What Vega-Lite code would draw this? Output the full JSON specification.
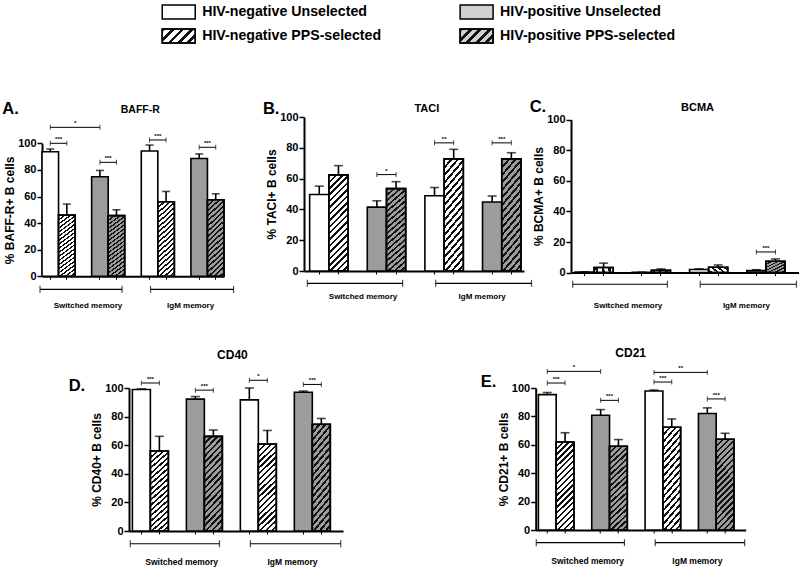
{
"$schema":"https://vega.github.io/schema/vega-lite/v6.json",
"padding":{"left":2,"top":0,"right":0,"bottom":0},
"background":"white",
"config":{"font":"Liberation Sans","view":{"stroke":null},
"axis":{"grid":false,"domainColor":"#000","domainWidth":2,"tickColor":"#000","labelColor":"#000","labelFontWeight":"bold","labelFontSize":11,"labelOverlap":false,"titleColor":"#000","titleFontWeight":"bold","titleFontSize":12},
"axisX":{"tickSize":3,"tickWidth":1,"labels":false},
"axisY":{"tickSize":5,"tickWidth":1.5,"labelPadding":1,"titlePadding":1,"labelOverlap":false},
"axisQuantitative":{"labelOverlap":false},
"text":{"fontWeight":"bold","color":"#000"}},
"datasets":{
"bars":[
{"panel":"A","slot":"SM-negU","series":"negU","value":93.7,"upper":95.7},
{"panel":"A","slot":"SM-negP","series":"negP","value":46,"upper":54.3},
{"panel":"A","slot":"SM-posU","series":"posU","value":74.8,"upper":79.6},
{"panel":"A","slot":"SM-posP","series":"posP","value":45.6,"upper":50},
{"panel":"A","slot":"IgM-negU","series":"negU","value":94.2,"upper":98.7},
{"panel":"A","slot":"IgM-negP","series":"negP","value":56,"upper":63.8},
{"panel":"A","slot":"IgM-posU","series":"posU","value":88.6,"upper":92},
{"panel":"A","slot":"IgM-posP","series":"posP","value":57.6,"upper":62},
{"panel":"B","slot":"SM-negU","series":"negU","value":49.7,"upper":55.1},
{"panel":"B","slot":"SM-negP","series":"negP","value":62.4,"upper":68.4},
{"panel":"B","slot":"SM-posU","series":"posU","value":41.5,"upper":45.6},
{"panel":"B","slot":"SM-posP","series":"posP","value":53.5,"upper":58},
{"panel":"B","slot":"IgM-negU","series":"negU","value":48.9,"upper":54.2},
{"panel":"B","slot":"IgM-negP","series":"negP","value":72.8,"upper":79},
{"panel":"B","slot":"IgM-posU","series":"posU","value":44.8,"upper":48.7},
{"panel":"B","slot":"IgM-posP","series":"posP","value":72.8,"upper":76.8},
{"panel":"C","slot":"SM-negU","series":"negU","value":0.3,"upper":0.5},
{"panel":"C","slot":"SM-negP","series":"negP","value":3.3,"upper":6.2},
{"panel":"C","slot":"SM-posU","series":"posU","value":0.2,"upper":0.3},
{"panel":"C","slot":"SM-posP","series":"posP","value":1.5,"upper":2.4},
{"panel":"C","slot":"IgM-negU","series":"negU","value":2,"upper":2.5},
{"panel":"C","slot":"IgM-negP","series":"negP","value":3.5,"upper":5},
{"panel":"C","slot":"IgM-posU","series":"posU","value":1.3,"upper":1.9},
{"panel":"C","slot":"IgM-posP","series":"posP","value":7.4,"upper":8.9},
{"panel":"D","slot":"SM-negU","series":"negU","value":99,"upper":99.4},
{"panel":"D","slot":"SM-negP","series":"negP","value":55.9,"upper":66.2},
{"panel":"D","slot":"SM-posU","series":"posU","value":92.2,"upper":94},
{"panel":"D","slot":"SM-posP","series":"posP","value":66.2,"upper":70.6},
{"panel":"D","slot":"IgM-negU","series":"negU","value":91.7,"upper":100},
{"panel":"D","slot":"IgM-negP","series":"negP","value":60.8,"upper":70.3},
{"panel":"D","slot":"IgM-posU","series":"posU","value":97,"upper":97.9},
{"panel":"D","slot":"IgM-posP","series":"posP","value":74.6,"upper":78.7},
{"panel":"E","slot":"SM-negU","series":"negU","value":95.3,"upper":96.8},
{"panel":"E","slot":"SM-negP","series":"negP","value":62,"upper":68.5},
{"panel":"E","slot":"SM-posU","series":"posU","value":80.8,"upper":84.8},
{"panel":"E","slot":"SM-posP","series":"posP","value":59,"upper":63.7},
{"panel":"E","slot":"IgM-negU","series":"negU","value":97.9,"upper":98.6},
{"panel":"E","slot":"IgM-negP","series":"negP","value":72.4,"upper":78.2},
{"panel":"E","slot":"IgM-posU","series":"posU","value":82,"upper":86},
{"panel":"E","slot":"IgM-posP","series":"posP","value":63.9,"upper":68.1}
],
"sig":[
{"panel":"A","from":"SM-negU","to":"SM-negP","mid":"SM-negU","level":100,"label":"***"},
{"panel":"A","from":"SM-negU","to":"SM-posU","mid":"SM-negP","level":112,"label":"*"},
{"panel":"A","from":"SM-posU","to":"SM-posP","mid":"SM-posU","level":85.7,"label":"***"},
{"panel":"A","from":"IgM-negU","to":"IgM-negP","mid":"IgM-negU","level":102.5,"label":"***"},
{"panel":"A","from":"IgM-posU","to":"IgM-posP","mid":"IgM-posU","level":97,"label":"***"},
{"panel":"B","from":"SM-posU","to":"SM-posP","mid":"SM-posU","level":62.6,"label":"*"},
{"panel":"B","from":"IgM-negU","to":"IgM-negP","mid":"IgM-negU","level":83.2,"label":"**"},
{"panel":"B","from":"IgM-posU","to":"IgM-posP","mid":"IgM-posU","level":83.2,"label":"***"},
{"panel":"C","from":"IgM-posU","to":"IgM-posP","mid":"IgM-posU","level":13.5,"label":"***"},
{"panel":"D","from":"SM-negU","to":"SM-negP","mid":"SM-negU","level":103.5,"label":"***"},
{"panel":"D","from":"SM-posU","to":"SM-posP","mid":"SM-posU","level":98.5,"label":"***"},
{"panel":"D","from":"IgM-negU","to":"IgM-negP","mid":"IgM-negU","level":105.4,"label":"*"},
{"panel":"D","from":"IgM-posU","to":"IgM-posP","mid":"IgM-posU","level":102.5,"label":"***"},
{"panel":"E","from":"SM-negU","to":"SM-posU","mid":"SM-negP","level":111.7,"label":"*"},
{"panel":"E","from":"SM-negU","to":"SM-negP","mid":"SM-negU","level":103.5,"label":"***"},
{"panel":"E","from":"SM-posU","to":"SM-posP","mid":"SM-posU","level":91.3,"label":"***"},
{"panel":"E","from":"IgM-negU","to":"IgM-posU","mid":"IgM-negP","level":111,"label":"**"},
{"panel":"E","from":"IgM-negU","to":"IgM-negP","mid":"IgM-negU","level":104.2,"label":"***"},
{"panel":"E","from":"IgM-posU","to":"IgM-posP","mid":"IgM-posU","level":92.3,"label":"***"}
],
"groups":[{"group":"Switched memory"},{"group":"IgM memory"}],
"panels":[
{"panel":"A","letter":"A.","marker":"BAFF-R"},
{"panel":"B","letter":"B.","marker":"TACI"},
{"panel":"C","letter":"C.","marker":"BCMA"},
{"panel":"D","letter":"D.","marker":"CD40"},
{"panel":"E","letter":"E.","marker":"CD21"}
],
"legend":[
{"status":"HIV-negative","selection":"Unselected","label":"HIV-negative Unselected"},
{"status":"HIV-negative","selection":"PPS-selected","label":"HIV-negative PPS-selected"},
{"status":"HIV-positive","selection":"Unselected","label":"HIV-positive Unselected"},
{"status":"HIV-positive","selection":"PPS-selected","label":"HIV-positive PPS-selected"}
]
},
"resolve":{"scale":{"fill":"independent"}},
"spacing":51,
"vconcat":[
{"width":716,"height":48,"data":{"name":"legend"},
"encoding":{
"x":{"field":"status","type":"nominal","bandPosition":0.0554,"scale":{"type":"band","domain":["HIV-negative","HIV-positive"],"paddingInner":0,"paddingOuter":0.2018,"align":1},"axis":null},
"y":{"field":"selection","type":"nominal","scale":{"type":"band","domain":["Unselected","PPS-selected"],"paddingInner":0,"paddingOuter":0},"axis":null}},
"layer":[
{"mark":{"type":"point","shape":"M-1,-0.424H1V0.424H-1Z","size":1089,"filled":true,"stroke":"#000","strokeWidth":1.5,"opacity":1},
"encoding":{"fill":{"field":"label","type":"nominal","legend":null,"scale":{"domain":["HIV-negative Unselected","HIV-negative PPS-selected","HIV-positive Unselected","HIV-positive PPS-selected"],"range":["#ffffff","#ffffff","#d0d0d0","#d0d0d0"]}}}},
{"transform":[{"filter":"datum.selection==='PPS-selected'"}],
"mark":{"type":"point","shape":"M-1,-0.424H1V0.424H-1Z","size":1089,"filled":true,"stroke":"#000","strokeWidth":1.5,"opacity":1,
"fill":{"gradient":"linear","x1":0,"y1":0,"x2":1.207,"y2":0.511,"stops":[{"offset":0,"color":"#111"},{"offset":0.08,"color":"#111"},{"offset":0.08,"color":"rgba(0,0,0,0)"},{"offset":0.2,"color":"rgba(0,0,0,0)"},{"offset":0.2,"color":"#111"},{"offset":0.28,"color":"#111"},{"offset":0.28,"color":"rgba(0,0,0,0)"},{"offset":0.4,"color":"rgba(0,0,0,0)"},{"offset":0.4,"color":"#111"},{"offset":0.48,"color":"#111"},{"offset":0.48,"color":"rgba(0,0,0,0)"},{"offset":0.6,"color":"rgba(0,0,0,0)"},{"offset":0.6,"color":"#111"},{"offset":0.68,"color":"#111"},{"offset":0.68,"color":"rgba(0,0,0,0)"},{"offset":0.8,"color":"rgba(0,0,0,0)"},{"offset":0.8,"color":"#111"},{"offset":0.88,"color":"#111"},{"offset":0.88,"color":"rgba(0,0,0,0)"},{"offset":1,"color":"rgba(0,0,0,0)"}]}},
"encoding":{}},
{"mark":{"type":"text","align":"left","fontSize":14.2},
"encoding":{"x":{"field":"status","type":"nominal","bandPosition":0.134},"text":{"field":"label"}}}
]},
{"spacing":36,"vconcat":[
{"spacing":27,"align":"none","hconcat":[
{"width":182,"height":159.3,"layer":[
{"data":{"name":"bars"},"transform":[{"filter":"datum.panel==='A'"}],"layer":[
{"mark":{"type":"bar","stroke":"#000","strokeWidth":1.6},"encoding":{
"x":{"field":"slot","type":"nominal","scale":{"domain":["SM-negU","SM-negP","g1","SM-posU","SM-posP","g2","IgM-negU","IgM-negP","g3","IgM-posU","IgM-posP"],"paddingInner":0,"paddingOuter":0,"align":0.5},"axis":{"title":null,"values":["SM-negU","SM-negP","SM-posU","SM-posP","IgM-negU","IgM-negP","IgM-posU","IgM-posP"]}},
"y":{"field":"value","type":"quantitative","scale":{"domain":[0,100],"nice":false,"range":[159.3,26.3]},"axis":{"title":"% BAFF-R+ B cells","tickCount":6,"values":[0,20,40,60,80,100],"labelOverlap":false,"labelSeparation":0}},
"fill":{"field":"series","type":"nominal","legend":null,"scale":{"domain":["negU","negP","posU","posP"],"range":["#ffffff","#ffffff","#9c9c9c","#9c9c9c"]}}}},
{"transform":[{"filter":"datum.series==='negP'||datum.series==='posP'"}],"mark":{"type":"bar","stroke":"#000","strokeWidth":1.6,"fill":{"gradient":"linear","x1":0,"y1":0,"x2":0.231,"y2":1.154,"stops":[{"offset":0,"color":"#111"},{"offset":0.0222,"color":"#111"},{"offset":0.0222,"color":"rgba(0,0,0,0)"},{"offset":0.0556,"color":"rgba(0,0,0,0)"},{"offset":0.0556,"color":"#111"},{"offset":0.0778,"color":"#111"},{"offset":0.0778,"color":"rgba(0,0,0,0)"},{"offset":0.1111,"color":"rgba(0,0,0,0)"},{"offset":0.1111,"color":"#111"},{"offset":0.1333,"color":"#111"},{"offset":0.1333,"color":"rgba(0,0,0,0)"},{"offset":0.1667,"color":"rgba(0,0,0,0)"},{"offset":0.1667,"color":"#111"},{"offset":0.1889,"color":"#111"},{"offset":0.1889,"color":"rgba(0,0,0,0)"},{"offset":0.2222,"color":"rgba(0,0,0,0)"},{"offset":0.2222,"color":"#111"},{"offset":0.2444,"color":"#111"},{"offset":0.2444,"color":"rgba(0,0,0,0)"},{"offset":0.2778,"color":"rgba(0,0,0,0)"},{"offset":0.2778,"color":"#111"},{"offset":0.3,"color":"#111"},{"offset":0.3,"color":"rgba(0,0,0,0)"},{"offset":0.3333,"color":"rgba(0,0,0,0)"},{"offset":0.3333,"color":"#111"},{"offset":0.3556,"color":"#111"},{"offset":0.3556,"color":"rgba(0,0,0,0)"},{"offset":0.3889,"color":"rgba(0,0,0,0)"},{"offset":0.3889,"color":"#111"},{"offset":0.4111,"color":"#111"},{"offset":0.4111,"color":"rgba(0,0,0,0)"},{"offset":0.4444,"color":"rgba(0,0,0,0)"},{"offset":0.4444,"color":"#111"},{"offset":0.4667,"color":"#111"},{"offset":0.4667,"color":"rgba(0,0,0,0)"},{"offset":0.5,"color":"rgba(0,0,0,0)"},{"offset":0.5,"color":"#111"},{"offset":0.5222,"color":"#111"},{"offset":0.5222,"color":"rgba(0,0,0,0)"},{"offset":0.5556,"color":"rgba(0,0,0,0)"},{"offset":0.5556,"color":"#111"},{"offset":0.5778,"color":"#111"},{"offset":0.5778,"color":"rgba(0,0,0,0)"},{"offset":0.6111,"color":"rgba(0,0,0,0)"},{"offset":0.6111,"color":"#111"},{"offset":0.6333,"color":"#111"},{"offset":0.6333,"color":"rgba(0,0,0,0)"},{"offset":0.6667,"color":"rgba(0,0,0,0)"},{"offset":0.6667,"color":"#111"},{"offset":0.6889,"color":"#111"},{"offset":0.6889,"color":"rgba(0,0,0,0)"},{"offset":0.7222,"color":"rgba(0,0,0,0)"},{"offset":0.7222,"color":"#111"},{"offset":0.7444,"color":"#111"},{"offset":0.7444,"color":"rgba(0,0,0,0)"},{"offset":0.7778,"color":"rgba(0,0,0,0)"},{"offset":0.7778,"color":"#111"},{"offset":0.8,"color":"#111"},{"offset":0.8,"color":"rgba(0,0,0,0)"},{"offset":0.8333,"color":"rgba(0,0,0,0)"},{"offset":0.8333,"color":"#111"},{"offset":0.8556,"color":"#111"},{"offset":0.8556,"color":"rgba(0,0,0,0)"},{"offset":0.8889,"color":"rgba(0,0,0,0)"},{"offset":0.8889,"color":"#111"},{"offset":0.9111,"color":"#111"},{"offset":0.9111,"color":"rgba(0,0,0,0)"},{"offset":0.9444,"color":"rgba(0,0,0,0)"},{"offset":0.9444,"color":"#111"},{"offset":0.9667,"color":"#111"},{"offset":0.9667,"color":"rgba(0,0,0,0)"},{"offset":1,"color":"rgba(0,0,0,0)"}]}},"encoding":{"x":{"field":"slot","type":"nominal"},"y":{"field":"value","type":"quantitative"}}},
{"mark":{"type":"rule","stroke":"#000","strokeWidth":1.6},"encoding":{"x":{"field":"slot","type":"nominal"},"y":{"field":"value","type":"quantitative"},"y2":{"field":"upper"}}},
{"mark":{"type":"tick","color":"#000","size":8,"thickness":1.6},"encoding":{"x":{"field":"slot","type":"nominal"},"y":{"field":"upper","type":"quantitative"}}}
]},
{"data":{"name":"sig"},"transform":[{"filter":"datum.panel==='A'"}],"layer":[
{"mark":{"type":"rule","stroke":"#000","strokeWidth":1},"encoding":{"x":{"field":"from","type":"nominal","bandPosition":0.5},"x2":{"field":"to","bandPosition":0.5},"y":{"field":"level","type":"quantitative"}}},
{"mark":{"type":"tick","orient":"vertical","color":"#000","size":5,"thickness":1},"encoding":{"x":{"field":"from","type":"nominal","bandPosition":0.5},"y":{"field":"level","type":"quantitative"}}},
{"mark":{"type":"tick","orient":"vertical","color":"#000","size":5,"thickness":1},"encoding":{"x":{"field":"to","type":"nominal","bandPosition":0.5},"y":{"field":"level","type":"quantitative"}}},
{"mark":{"type":"text","fontSize":6,"baseline":"bottom","dy":-1},"encoding":{"x":{"field":"mid","type":"nominal","bandPosition":1},"y":{"field":"level","type":"quantitative"},"text":{"field":"label"}}}
]},
{"data":{"name":"groups"},"transform":[{"filter":"datum.group==='Switched memory'"}],"layer":[
{"mark":{"type":"rule","stroke":"#000","strokeWidth":1.2},"encoding":{"x":{"datum":"SM-negU","bandPosition":-0.12},"x2":{"datum":"SM-posP","bandPosition":0.84},"y":{"datum":-9.8}}},
{"mark":{"type":"tick","orient":"vertical","color":"#000","size":7,"thickness":1.2},"encoding":{"x":{"datum":"SM-negU","bandPosition":-0.12},"y":{"datum":-9.8}}},
{"mark":{"type":"tick","orient":"vertical","color":"#000","size":7,"thickness":1.2},"encoding":{"x":{"datum":"SM-posP","bandPosition":0.84},"y":{"datum":-9.8}}},
{"mark":{"type":"text","fontSize":8},"encoding":{"x":{"datum":"g1","bandPosition":0.78},"y":{"datum":-22.6},"text":{"field":"group"}}}
]},
{"data":{"name":"groups"},"transform":[{"filter":"datum.group==='IgM memory'"}],"layer":[
{"mark":{"type":"rule","stroke":"#000","strokeWidth":1.2},"encoding":{"x":{"datum":"IgM-negU","bandPosition":0.56},"x2":{"datum":"IgM-posP","bandPosition":1.58},"y":{"datum":-9.8}}},
{"mark":{"type":"tick","orient":"vertical","color":"#000","size":7,"thickness":1.2},"encoding":{"x":{"datum":"IgM-negU","bandPosition":0.56},"y":{"datum":-9.8}}},
{"mark":{"type":"tick","orient":"vertical","color":"#000","size":7,"thickness":1.2},"encoding":{"x":{"datum":"IgM-posP","bandPosition":1.58},"y":{"datum":-9.8}}},
{"mark":{"type":"text","fontSize":8},"encoding":{"x":{"datum":"g3","bandPosition":0.98},"y":{"datum":-22.6},"text":{"field":"group"}}}
]},
{"data":{"name":"panels"},"transform":[{"filter":"datum.panel==='A'"}],"layer":[
{"mark":{"type":"text","fontSize":16.5,"align":"left","dx":-39.7},"encoding":{"x":{"datum":"SM-negU","bandPosition":0},"y":{"datum":126},"text":{"field":"letter"}}},
{"mark":{"type":"text","fontSize":10.5},"encoding":{"x":{"datum":"g2","bandPosition":0.94},"y":{"datum":125},"text":{"field":"marker"}}}
]}
]},
{"spacing":-4,"align":"none","hconcat":[
{"width":220,"height":154,"layer":[
{"data":{"name":"bars"},"transform":[{"filter":"datum.panel==='B'"}],"layer":[
{"mark":{"type":"bar","stroke":"#000","strokeWidth":1.6},"encoding":{
"x":{"field":"slot","type":"nominal","scale":{"domain":["SM-negU","SM-negP","g1","SM-posU","SM-posP","g2","IgM-negU","IgM-negP","g3","IgM-posU","IgM-posP"],"paddingInner":0,"paddingOuter":0.226,"align":0.65},"axis":{"title":null,"values":["SM-negU","SM-negP","SM-posU","SM-posP","IgM-negU","IgM-negP","IgM-posU","IgM-posP"]}},
"y":{"field":"value","type":"quantitative","scale":{"domain":[0,100],"nice":false},"axis":{"title":"% TACI+  B cells","tickCount":6,"values":[0,20,40,60,80,100],"labelOverlap":false,"labelSeparation":0}},
"fill":{"field":"series","type":"nominal","legend":null}}},
{"transform":[{"filter":"datum.series==='negP'||datum.series==='posP'"}],"mark":{"type":"bar","stroke":"#000","strokeWidth":1.6,"fill":{"gradient":"linear","x1":0,"y1":0,"x2":0.231,"y2":1.154,"stops":[{"offset":0,"color":"#111"},{"offset":0.0222,"color":"#111"},{"offset":0.0222,"color":"rgba(0,0,0,0)"},{"offset":0.0556,"color":"rgba(0,0,0,0)"},{"offset":0.0556,"color":"#111"},{"offset":0.0778,"color":"#111"},{"offset":0.0778,"color":"rgba(0,0,0,0)"},{"offset":0.1111,"color":"rgba(0,0,0,0)"},{"offset":0.1111,"color":"#111"},{"offset":0.1333,"color":"#111"},{"offset":0.1333,"color":"rgba(0,0,0,0)"},{"offset":0.1667,"color":"rgba(0,0,0,0)"},{"offset":0.1667,"color":"#111"},{"offset":0.1889,"color":"#111"},{"offset":0.1889,"color":"rgba(0,0,0,0)"},{"offset":0.2222,"color":"rgba(0,0,0,0)"},{"offset":0.2222,"color":"#111"},{"offset":0.2444,"color":"#111"},{"offset":0.2444,"color":"rgba(0,0,0,0)"},{"offset":0.2778,"color":"rgba(0,0,0,0)"},{"offset":0.2778,"color":"#111"},{"offset":0.3,"color":"#111"},{"offset":0.3,"color":"rgba(0,0,0,0)"},{"offset":0.3333,"color":"rgba(0,0,0,0)"},{"offset":0.3333,"color":"#111"},{"offset":0.3556,"color":"#111"},{"offset":0.3556,"color":"rgba(0,0,0,0)"},{"offset":0.3889,"color":"rgba(0,0,0,0)"},{"offset":0.3889,"color":"#111"},{"offset":0.4111,"color":"#111"},{"offset":0.4111,"color":"rgba(0,0,0,0)"},{"offset":0.4444,"color":"rgba(0,0,0,0)"},{"offset":0.4444,"color":"#111"},{"offset":0.4667,"color":"#111"},{"offset":0.4667,"color":"rgba(0,0,0,0)"},{"offset":0.5,"color":"rgba(0,0,0,0)"},{"offset":0.5,"color":"#111"},{"offset":0.5222,"color":"#111"},{"offset":0.5222,"color":"rgba(0,0,0,0)"},{"offset":0.5556,"color":"rgba(0,0,0,0)"},{"offset":0.5556,"color":"#111"},{"offset":0.5778,"color":"#111"},{"offset":0.5778,"color":"rgba(0,0,0,0)"},{"offset":0.6111,"color":"rgba(0,0,0,0)"},{"offset":0.6111,"color":"#111"},{"offset":0.6333,"color":"#111"},{"offset":0.6333,"color":"rgba(0,0,0,0)"},{"offset":0.6667,"color":"rgba(0,0,0,0)"},{"offset":0.6667,"color":"#111"},{"offset":0.6889,"color":"#111"},{"offset":0.6889,"color":"rgba(0,0,0,0)"},{"offset":0.7222,"color":"rgba(0,0,0,0)"},{"offset":0.7222,"color":"#111"},{"offset":0.7444,"color":"#111"},{"offset":0.7444,"color":"rgba(0,0,0,0)"},{"offset":0.7778,"color":"rgba(0,0,0,0)"},{"offset":0.7778,"color":"#111"},{"offset":0.8,"color":"#111"},{"offset":0.8,"color":"rgba(0,0,0,0)"},{"offset":0.8333,"color":"rgba(0,0,0,0)"},{"offset":0.8333,"color":"#111"},{"offset":0.8556,"color":"#111"},{"offset":0.8556,"color":"rgba(0,0,0,0)"},{"offset":0.8889,"color":"rgba(0,0,0,0)"},{"offset":0.8889,"color":"#111"},{"offset":0.9111,"color":"#111"},{"offset":0.9111,"color":"rgba(0,0,0,0)"},{"offset":0.9444,"color":"rgba(0,0,0,0)"},{"offset":0.9444,"color":"#111"},{"offset":0.9667,"color":"#111"},{"offset":0.9667,"color":"rgba(0,0,0,0)"},{"offset":1,"color":"rgba(0,0,0,0)"}]}},"encoding":{"x":{"field":"slot","type":"nominal"},"y":{"field":"value","type":"quantitative"}}},
{"mark":{"type":"rule","stroke":"#000","strokeWidth":1.6},"encoding":{"x":{"field":"slot","type":"nominal"},"y":{"field":"value","type":"quantitative"},"y2":{"field":"upper"}}},
{"mark":{"type":"tick","color":"#000","size":9,"thickness":1.6},"encoding":{"x":{"field":"slot","type":"nominal"},"y":{"field":"upper","type":"quantitative"}}}
]},
{"data":{"name":"sig"},"transform":[{"filter":"datum.panel==='B'"}],"layer":[
{"mark":{"type":"rule","stroke":"#000","strokeWidth":1},"encoding":{"x":{"field":"from","type":"nominal","bandPosition":0.5},"x2":{"field":"to","bandPosition":0.5},"y":{"field":"level","type":"quantitative"}}},
{"mark":{"type":"tick","orient":"vertical","color":"#000","size":5,"thickness":1},"encoding":{"x":{"field":"from","type":"nominal","bandPosition":0.5},"y":{"field":"level","type":"quantitative"}}},
{"mark":{"type":"tick","orient":"vertical","color":"#000","size":5,"thickness":1},"encoding":{"x":{"field":"to","type":"nominal","bandPosition":0.5},"y":{"field":"level","type":"quantitative"}}},
{"mark":{"type":"text","fontSize":6,"baseline":"bottom","dy":-1},"encoding":{"x":{"field":"mid","type":"nominal","bandPosition":1},"y":{"field":"level","type":"quantitative"},"text":{"field":"label"}}}
]},
{"data":{"name":"groups"},"transform":[{"filter":"datum.group==='Switched memory'"}],"layer":[
{"mark":{"type":"rule","stroke":"#000","strokeWidth":1.2},"encoding":{"x":{"datum":"SM-negU","bandPosition":-0.12},"x2":{"datum":"SM-posP","bandPosition":0.84},"y":{"datum":-8}}},
{"mark":{"type":"tick","orient":"vertical","color":"#000","size":7,"thickness":1.2},"encoding":{"x":{"datum":"SM-negU","bandPosition":-0.12},"y":{"datum":-8}}},
{"mark":{"type":"tick","orient":"vertical","color":"#000","size":7,"thickness":1.2},"encoding":{"x":{"datum":"SM-posP","bandPosition":0.84},"y":{"datum":-8}}},
{"mark":{"type":"text","fontSize":8},"encoding":{"x":{"datum":"g1","bandPosition":0.78},"y":{"datum":-17},"text":{"field":"group"}}}
]},
{"data":{"name":"groups"},"transform":[{"filter":"datum.group==='IgM memory'"}],"layer":[
{"mark":{"type":"rule","stroke":"#000","strokeWidth":1.2},"encoding":{"x":{"datum":"IgM-negU","bandPosition":0.56},"x2":{"datum":"IgM-posP","bandPosition":1.55},"y":{"datum":-8}}},
{"mark":{"type":"tick","orient":"vertical","color":"#000","size":7,"thickness":1.2},"encoding":{"x":{"datum":"IgM-negU","bandPosition":0.56},"y":{"datum":-8}}},
{"mark":{"type":"tick","orient":"vertical","color":"#000","size":7,"thickness":1.2},"encoding":{"x":{"datum":"IgM-posP","bandPosition":1.55},"y":{"datum":-8}}},
{"mark":{"type":"text","fontSize":8},"encoding":{"x":{"datum":"g3","bandPosition":0.98},"y":{"datum":-17},"text":{"field":"group"}}}
]},
{"data":{"name":"panels"},"transform":[{"filter":"datum.panel==='B'"}],"layer":[
{"mark":{"type":"text","fontSize":16.5,"align":"left","dx":-46.7},"encoding":{"x":{"datum":"SM-negU","bandPosition":0},"y":{"datum":105.2},"text":{"field":"letter"}}},
{"mark":{"type":"text","fontSize":11},"encoding":{"x":{"datum":"IgM-negU","bandPosition":0.1},"y":{"datum":105.2},"text":{"field":"marker"}}}
]}
]},
{"width":228,"height":155.6,"layer":[
{"data":{"name":"bars"},"transform":[{"filter":"datum.panel==='C'"}],"layer":[
{"mark":{"type":"bar","stroke":"#000","strokeWidth":1.6},"encoding":{
"x":{"field":"slot","type":"nominal","scale":{"domain":["SM-negU","SM-negP","g1","SM-posU","SM-posP","g2","IgM-negU","IgM-negP","g3","IgM-posU","IgM-posP"],"paddingInner":0,"paddingOuter":0.471,"align":0.222},"axis":{"title":null,"values":["SM-negU","SM-negP","SM-posU","SM-posP","IgM-negU","IgM-negP","IgM-posU","IgM-posP"]}},
"y":{"field":"value","type":"quantitative","scale":{"domain":[0,100],"nice":false,"range":[155.6,2.6]},"axis":{"title":"% BCMA+ B cells","tickCount":6,"values":[0,20,40,60,80,100],"labelOverlap":false,"labelSeparation":0}},
"fill":{"field":"series","type":"nominal","legend":null}}},
{"transform":[{"filter":"datum.series==='negP'||datum.series==='posP'"}],"mark":{"type":"bar","stroke":"#000","strokeWidth":1.6,"fill":{"gradient":"linear","x1":0,"y1":0,"x2":0.231,"y2":1.154,"stops":[{"offset":0,"color":"#111"},{"offset":0.0222,"color":"#111"},{"offset":0.0222,"color":"rgba(0,0,0,0)"},{"offset":0.0556,"color":"rgba(0,0,0,0)"},{"offset":0.0556,"color":"#111"},{"offset":0.0778,"color":"#111"},{"offset":0.0778,"color":"rgba(0,0,0,0)"},{"offset":0.1111,"color":"rgba(0,0,0,0)"},{"offset":0.1111,"color":"#111"},{"offset":0.1333,"color":"#111"},{"offset":0.1333,"color":"rgba(0,0,0,0)"},{"offset":0.1667,"color":"rgba(0,0,0,0)"},{"offset":0.1667,"color":"#111"},{"offset":0.1889,"color":"#111"},{"offset":0.1889,"color":"rgba(0,0,0,0)"},{"offset":0.2222,"color":"rgba(0,0,0,0)"},{"offset":0.2222,"color":"#111"},{"offset":0.2444,"color":"#111"},{"offset":0.2444,"color":"rgba(0,0,0,0)"},{"offset":0.2778,"color":"rgba(0,0,0,0)"},{"offset":0.2778,"color":"#111"},{"offset":0.3,"color":"#111"},{"offset":0.3,"color":"rgba(0,0,0,0)"},{"offset":0.3333,"color":"rgba(0,0,0,0)"},{"offset":0.3333,"color":"#111"},{"offset":0.3556,"color":"#111"},{"offset":0.3556,"color":"rgba(0,0,0,0)"},{"offset":0.3889,"color":"rgba(0,0,0,0)"},{"offset":0.3889,"color":"#111"},{"offset":0.4111,"color":"#111"},{"offset":0.4111,"color":"rgba(0,0,0,0)"},{"offset":0.4444,"color":"rgba(0,0,0,0)"},{"offset":0.4444,"color":"#111"},{"offset":0.4667,"color":"#111"},{"offset":0.4667,"color":"rgba(0,0,0,0)"},{"offset":0.5,"color":"rgba(0,0,0,0)"},{"offset":0.5,"color":"#111"},{"offset":0.5222,"color":"#111"},{"offset":0.5222,"color":"rgba(0,0,0,0)"},{"offset":0.5556,"color":"rgba(0,0,0,0)"},{"offset":0.5556,"color":"#111"},{"offset":0.5778,"color":"#111"},{"offset":0.5778,"color":"rgba(0,0,0,0)"},{"offset":0.6111,"color":"rgba(0,0,0,0)"},{"offset":0.6111,"color":"#111"},{"offset":0.6333,"color":"#111"},{"offset":0.6333,"color":"rgba(0,0,0,0)"},{"offset":0.6667,"color":"rgba(0,0,0,0)"},{"offset":0.6667,"color":"#111"},{"offset":0.6889,"color":"#111"},{"offset":0.6889,"color":"rgba(0,0,0,0)"},{"offset":0.7222,"color":"rgba(0,0,0,0)"},{"offset":0.7222,"color":"#111"},{"offset":0.7444,"color":"#111"},{"offset":0.7444,"color":"rgba(0,0,0,0)"},{"offset":0.7778,"color":"rgba(0,0,0,0)"},{"offset":0.7778,"color":"#111"},{"offset":0.8,"color":"#111"},{"offset":0.8,"color":"rgba(0,0,0,0)"},{"offset":0.8333,"color":"rgba(0,0,0,0)"},{"offset":0.8333,"color":"#111"},{"offset":0.8556,"color":"#111"},{"offset":0.8556,"color":"rgba(0,0,0,0)"},{"offset":0.8889,"color":"rgba(0,0,0,0)"},{"offset":0.8889,"color":"#111"},{"offset":0.9111,"color":"#111"},{"offset":0.9111,"color":"rgba(0,0,0,0)"},{"offset":0.9444,"color":"rgba(0,0,0,0)"},{"offset":0.9444,"color":"#111"},{"offset":0.9667,"color":"#111"},{"offset":0.9667,"color":"rgba(0,0,0,0)"},{"offset":1,"color":"rgba(0,0,0,0)"}]}},"encoding":{"x":{"field":"slot","type":"nominal"},"y":{"field":"value","type":"quantitative"}}},
{"mark":{"type":"rule","stroke":"#000","strokeWidth":1.6},"encoding":{"x":{"field":"slot","type":"nominal"},"y":{"field":"value","type":"quantitative"},"y2":{"field":"upper"}}},
{"mark":{"type":"tick","color":"#000","size":9,"thickness":1.6},"encoding":{"x":{"field":"slot","type":"nominal"},"y":{"field":"upper","type":"quantitative"}}}
]},
{"data":{"name":"sig"},"transform":[{"filter":"datum.panel==='C'"}],"layer":[
{"mark":{"type":"rule","stroke":"#000","strokeWidth":1},"encoding":{"x":{"field":"from","type":"nominal","bandPosition":0.5},"x2":{"field":"to","bandPosition":0.5},"y":{"field":"level","type":"quantitative"}}},
{"mark":{"type":"tick","orient":"vertical","color":"#000","size":5,"thickness":1},"encoding":{"x":{"field":"from","type":"nominal","bandPosition":0.5},"y":{"field":"level","type":"quantitative"}}},
{"mark":{"type":"tick","orient":"vertical","color":"#000","size":5,"thickness":1},"encoding":{"x":{"field":"to","type":"nominal","bandPosition":0.5},"y":{"field":"level","type":"quantitative"}}},
{"mark":{"type":"text","fontSize":6,"baseline":"bottom","dy":-1},"encoding":{"x":{"field":"mid","type":"nominal","bandPosition":1},"y":{"field":"level","type":"quantitative"},"text":{"field":"label"}}}
]},
{"data":{"name":"groups"},"transform":[{"filter":"datum.group==='Switched memory'"}],"layer":[
{"mark":{"type":"rule","stroke":"#000","strokeWidth":1.2},"encoding":{"x":{"datum":"SM-negU","bandPosition":-0.12},"x2":{"datum":"SM-posP","bandPosition":0.84},"y":{"datum":-7.6}}},
{"mark":{"type":"tick","orient":"vertical","color":"#000","size":7,"thickness":1.2},"encoding":{"x":{"datum":"SM-negU","bandPosition":-0.12},"y":{"datum":-7.6}}},
{"mark":{"type":"tick","orient":"vertical","color":"#000","size":7,"thickness":1.2},"encoding":{"x":{"datum":"SM-posP","bandPosition":0.84},"y":{"datum":-7.6}}},
{"mark":{"type":"text","fontSize":8},"encoding":{"x":{"datum":"g1","bandPosition":0.78},"y":{"datum":-21.6},"text":{"field":"group"}}}
]},
{"data":{"name":"groups"},"transform":[{"filter":"datum.group==='IgM memory'"}],"layer":[
{"mark":{"type":"rule","stroke":"#000","strokeWidth":1.2},"encoding":{"x":{"datum":"IgM-negU","bandPosition":0.56},"x2":{"datum":"IgM-posP","bandPosition":1.6},"y":{"datum":-7.6}}},
{"mark":{"type":"tick","orient":"vertical","color":"#000","size":7,"thickness":1.2},"encoding":{"x":{"datum":"IgM-negU","bandPosition":0.56},"y":{"datum":-7.6}}},
{"mark":{"type":"tick","orient":"vertical","color":"#000","size":7,"thickness":1.2},"encoding":{"x":{"datum":"IgM-posP","bandPosition":1.6},"y":{"datum":-7.6}}},
{"mark":{"type":"text","fontSize":8},"encoding":{"x":{"datum":"g3","bandPosition":0.98},"y":{"datum":-21.6},"text":{"field":"group"}}}
]},
{"data":{"name":"panels"},"transform":[{"filter":"datum.panel==='C'"}],"layer":[
{"mark":{"type":"text","fontSize":16.5,"align":"left","dx":-45.3},"encoding":{"x":{"datum":"SM-negU","bandPosition":0},"y":{"datum":108},"text":{"field":"letter"}}},
{"mark":{"type":"text","fontSize":11},"encoding":{"x":{"datum":"IgM-negU","bandPosition":0.42},"y":{"datum":107.4},"text":{"field":"marker"}}}
]}
]}
]}
]},
{"spacing":0,"align":"none","hconcat":[
{"width":26,"height":10,"view":{"fill":"#ffffff","stroke":null},"data":{"values":[]},"mark":"point","encoding":{}},
{"spacing":137.7,"align":"none","hconcat":[
{"width":214,"height":143,"layer":[
{"data":{"name":"bars"},"transform":[{"filter":"datum.panel==='D'"}],"layer":[
{"mark":{"type":"bar","stroke":"#000","strokeWidth":1.6},"encoding":{
"x":{"field":"slot","type":"nominal","scale":{"domain":["SM-negU","SM-negP","g1","SM-posU","SM-posP","g2","IgM-negU","IgM-negP","g3","IgM-posU","IgM-posP"],"paddingInner":0,"paddingOuter":0.447,"align":0.211},"axis":{"title":null,"values":["SM-negU","SM-negP","SM-posU","SM-posP","IgM-negU","IgM-negP","IgM-posU","IgM-posP"]}},
"y":{"field":"value","type":"quantitative","scale":{"domain":[0,100],"nice":false},"axis":{"title":"% CD40+ B cells","tickCount":6,"values":[0,20,40,60,80,100],"labelOverlap":false,"labelSeparation":0}},
"fill":{"field":"series","type":"nominal","legend":null}}},
{"transform":[{"filter":"datum.series==='negP'||datum.series==='posP'"}],"mark":{"type":"bar","stroke":"#000","strokeWidth":1.6,"fill":{"gradient":"linear","x1":0,"y1":0,"x2":0.231,"y2":1.154,"stops":[{"offset":0,"color":"#111"},{"offset":0.0222,"color":"#111"},{"offset":0.0222,"color":"rgba(0,0,0,0)"},{"offset":0.0556,"color":"rgba(0,0,0,0)"},{"offset":0.0556,"color":"#111"},{"offset":0.0778,"color":"#111"},{"offset":0.0778,"color":"rgba(0,0,0,0)"},{"offset":0.1111,"color":"rgba(0,0,0,0)"},{"offset":0.1111,"color":"#111"},{"offset":0.1333,"color":"#111"},{"offset":0.1333,"color":"rgba(0,0,0,0)"},{"offset":0.1667,"color":"rgba(0,0,0,0)"},{"offset":0.1667,"color":"#111"},{"offset":0.1889,"color":"#111"},{"offset":0.1889,"color":"rgba(0,0,0,0)"},{"offset":0.2222,"color":"rgba(0,0,0,0)"},{"offset":0.2222,"color":"#111"},{"offset":0.2444,"color":"#111"},{"offset":0.2444,"color":"rgba(0,0,0,0)"},{"offset":0.2778,"color":"rgba(0,0,0,0)"},{"offset":0.2778,"color":"#111"},{"offset":0.3,"color":"#111"},{"offset":0.3,"color":"rgba(0,0,0,0)"},{"offset":0.3333,"color":"rgba(0,0,0,0)"},{"offset":0.3333,"color":"#111"},{"offset":0.3556,"color":"#111"},{"offset":0.3556,"color":"rgba(0,0,0,0)"},{"offset":0.3889,"color":"rgba(0,0,0,0)"},{"offset":0.3889,"color":"#111"},{"offset":0.4111,"color":"#111"},{"offset":0.4111,"color":"rgba(0,0,0,0)"},{"offset":0.4444,"color":"rgba(0,0,0,0)"},{"offset":0.4444,"color":"#111"},{"offset":0.4667,"color":"#111"},{"offset":0.4667,"color":"rgba(0,0,0,0)"},{"offset":0.5,"color":"rgba(0,0,0,0)"},{"offset":0.5,"color":"#111"},{"offset":0.5222,"color":"#111"},{"offset":0.5222,"color":"rgba(0,0,0,0)"},{"offset":0.5556,"color":"rgba(0,0,0,0)"},{"offset":0.5556,"color":"#111"},{"offset":0.5778,"color":"#111"},{"offset":0.5778,"color":"rgba(0,0,0,0)"},{"offset":0.6111,"color":"rgba(0,0,0,0)"},{"offset":0.6111,"color":"#111"},{"offset":0.6333,"color":"#111"},{"offset":0.6333,"color":"rgba(0,0,0,0)"},{"offset":0.6667,"color":"rgba(0,0,0,0)"},{"offset":0.6667,"color":"#111"},{"offset":0.6889,"color":"#111"},{"offset":0.6889,"color":"rgba(0,0,0,0)"},{"offset":0.7222,"color":"rgba(0,0,0,0)"},{"offset":0.7222,"color":"#111"},{"offset":0.7444,"color":"#111"},{"offset":0.7444,"color":"rgba(0,0,0,0)"},{"offset":0.7778,"color":"rgba(0,0,0,0)"},{"offset":0.7778,"color":"#111"},{"offset":0.8,"color":"#111"},{"offset":0.8,"color":"rgba(0,0,0,0)"},{"offset":0.8333,"color":"rgba(0,0,0,0)"},{"offset":0.8333,"color":"#111"},{"offset":0.8556,"color":"#111"},{"offset":0.8556,"color":"rgba(0,0,0,0)"},{"offset":0.8889,"color":"rgba(0,0,0,0)"},{"offset":0.8889,"color":"#111"},{"offset":0.9111,"color":"#111"},{"offset":0.9111,"color":"rgba(0,0,0,0)"},{"offset":0.9444,"color":"rgba(0,0,0,0)"},{"offset":0.9444,"color":"#111"},{"offset":0.9667,"color":"#111"},{"offset":0.9667,"color":"rgba(0,0,0,0)"},{"offset":1,"color":"rgba(0,0,0,0)"}]}},"encoding":{"x":{"field":"slot","type":"nominal"},"y":{"field":"value","type":"quantitative"}}},
{"mark":{"type":"rule","stroke":"#000","strokeWidth":1.6},"encoding":{"x":{"field":"slot","type":"nominal"},"y":{"field":"value","type":"quantitative"},"y2":{"field":"upper"}}},
{"mark":{"type":"tick","color":"#000","size":9,"thickness":1.6},"encoding":{"x":{"field":"slot","type":"nominal"},"y":{"field":"upper","type":"quantitative"}}}
]},
{"data":{"name":"sig"},"transform":[{"filter":"datum.panel==='D'"}],"layer":[
{"mark":{"type":"rule","stroke":"#000","strokeWidth":1},"encoding":{"x":{"field":"from","type":"nominal","bandPosition":0.5},"x2":{"field":"to","bandPosition":0.5},"y":{"field":"level","type":"quantitative"}}},
{"mark":{"type":"tick","orient":"vertical","color":"#000","size":5,"thickness":1},"encoding":{"x":{"field":"from","type":"nominal","bandPosition":0.5},"y":{"field":"level","type":"quantitative"}}},
{"mark":{"type":"tick","orient":"vertical","color":"#000","size":5,"thickness":1},"encoding":{"x":{"field":"to","type":"nominal","bandPosition":0.5},"y":{"field":"level","type":"quantitative"}}},
{"mark":{"type":"text","fontSize":6,"baseline":"bottom","dy":-1},"encoding":{"x":{"field":"mid","type":"nominal","bandPosition":1},"y":{"field":"level","type":"quantitative"},"text":{"field":"label"}}}
]},
{"data":{"name":"groups"},"transform":[{"filter":"datum.group==='Switched memory'"}],"layer":[
{"mark":{"type":"rule","stroke":"#000","strokeWidth":1.2},"encoding":{"x":{"datum":"SM-negU","bandPosition":-0.12},"x2":{"datum":"SM-posP","bandPosition":0.84},"y":{"datum":-8.9}}},
{"mark":{"type":"tick","orient":"vertical","color":"#000","size":7,"thickness":1.2},"encoding":{"x":{"datum":"SM-negU","bandPosition":-0.12},"y":{"datum":-8.9}}},
{"mark":{"type":"tick","orient":"vertical","color":"#000","size":7,"thickness":1.2},"encoding":{"x":{"datum":"SM-posP","bandPosition":0.84},"y":{"datum":-8.9}}},
{"mark":{"type":"text","fontSize":8.5},"encoding":{"x":{"datum":"g1","bandPosition":0.74},"y":{"datum":-21.7},"text":{"field":"group"}}}
]},
{"data":{"name":"groups"},"transform":[{"filter":"datum.group==='IgM memory'"}],"layer":[
{"mark":{"type":"rule","stroke":"#000","strokeWidth":1.2},"encoding":{"x":{"datum":"IgM-negU","bandPosition":0.56},"x2":{"datum":"IgM-posP","bandPosition":1.58},"y":{"datum":-8.9}}},
{"mark":{"type":"tick","orient":"vertical","color":"#000","size":7,"thickness":1.2},"encoding":{"x":{"datum":"IgM-negU","bandPosition":0.56},"y":{"datum":-8.9}}},
{"mark":{"type":"tick","orient":"vertical","color":"#000","size":7,"thickness":1.2},"encoding":{"x":{"datum":"IgM-posP","bandPosition":1.58},"y":{"datum":-8.9}}},
{"mark":{"type":"text","fontSize":8.5},"encoding":{"x":{"datum":"g3","bandPosition":0.9},"y":{"datum":-21.7},"text":{"field":"group"}}}
]},
{"data":{"name":"panels"},"transform":[{"filter":"datum.panel==='D'"}],"layer":[
{"mark":{"type":"text","fontSize":16.5,"align":"left","dx":-63.7},"encoding":{"x":{"datum":"SM-negU","bandPosition":0},"y":{"datum":101.4},"text":{"field":"letter"}}},
{"mark":{"type":"text","fontSize":12},"encoding":{"x":{"datum":"g2","bandPosition":0.56},"y":{"datum":123},"text":{"field":"marker"}}}
]}
]},
{"width":210,"height":142,"layer":[
{"data":{"name":"bars"},"transform":[{"filter":"datum.panel==='E'"}],"layer":[
{"mark":{"type":"bar","stroke":"#000","strokeWidth":1.6},"encoding":{
"x":{"field":"slot","type":"nominal","scale":{"domain":["SM-negU","SM-negP","g1","SM-posU","SM-posP","g2","IgM-negU","IgM-negP","g3","IgM-posU","IgM-posP"],"paddingInner":0,"paddingOuter":0.405,"align":0.1875},"axis":{"title":null,"values":["SM-negU","SM-negP","SM-posU","SM-posP","IgM-negU","IgM-negP","IgM-posU","IgM-posP"]}},
"y":{"field":"value","type":"quantitative","scale":{"domain":[0,100],"nice":false},"axis":{"title":"% CD21+  B cells","tickCount":6,"values":[0,20,40,60,80,100],"labelOverlap":false,"labelSeparation":0}},
"fill":{"field":"series","type":"nominal","legend":null}}},
{"transform":[{"filter":"datum.series==='negP'||datum.series==='posP'"}],"mark":{"type":"bar","stroke":"#000","strokeWidth":1.6,"fill":{"gradient":"linear","x1":0,"y1":0,"x2":0.231,"y2":1.154,"stops":[{"offset":0,"color":"#111"},{"offset":0.0222,"color":"#111"},{"offset":0.0222,"color":"rgba(0,0,0,0)"},{"offset":0.0556,"color":"rgba(0,0,0,0)"},{"offset":0.0556,"color":"#111"},{"offset":0.0778,"color":"#111"},{"offset":0.0778,"color":"rgba(0,0,0,0)"},{"offset":0.1111,"color":"rgba(0,0,0,0)"},{"offset":0.1111,"color":"#111"},{"offset":0.1333,"color":"#111"},{"offset":0.1333,"color":"rgba(0,0,0,0)"},{"offset":0.1667,"color":"rgba(0,0,0,0)"},{"offset":0.1667,"color":"#111"},{"offset":0.1889,"color":"#111"},{"offset":0.1889,"color":"rgba(0,0,0,0)"},{"offset":0.2222,"color":"rgba(0,0,0,0)"},{"offset":0.2222,"color":"#111"},{"offset":0.2444,"color":"#111"},{"offset":0.2444,"color":"rgba(0,0,0,0)"},{"offset":0.2778,"color":"rgba(0,0,0,0)"},{"offset":0.2778,"color":"#111"},{"offset":0.3,"color":"#111"},{"offset":0.3,"color":"rgba(0,0,0,0)"},{"offset":0.3333,"color":"rgba(0,0,0,0)"},{"offset":0.3333,"color":"#111"},{"offset":0.3556,"color":"#111"},{"offset":0.3556,"color":"rgba(0,0,0,0)"},{"offset":0.3889,"color":"rgba(0,0,0,0)"},{"offset":0.3889,"color":"#111"},{"offset":0.4111,"color":"#111"},{"offset":0.4111,"color":"rgba(0,0,0,0)"},{"offset":0.4444,"color":"rgba(0,0,0,0)"},{"offset":0.4444,"color":"#111"},{"offset":0.4667,"color":"#111"},{"offset":0.4667,"color":"rgba(0,0,0,0)"},{"offset":0.5,"color":"rgba(0,0,0,0)"},{"offset":0.5,"color":"#111"},{"offset":0.5222,"color":"#111"},{"offset":0.5222,"color":"rgba(0,0,0,0)"},{"offset":0.5556,"color":"rgba(0,0,0,0)"},{"offset":0.5556,"color":"#111"},{"offset":0.5778,"color":"#111"},{"offset":0.5778,"color":"rgba(0,0,0,0)"},{"offset":0.6111,"color":"rgba(0,0,0,0)"},{"offset":0.6111,"color":"#111"},{"offset":0.6333,"color":"#111"},{"offset":0.6333,"color":"rgba(0,0,0,0)"},{"offset":0.6667,"color":"rgba(0,0,0,0)"},{"offset":0.6667,"color":"#111"},{"offset":0.6889,"color":"#111"},{"offset":0.6889,"color":"rgba(0,0,0,0)"},{"offset":0.7222,"color":"rgba(0,0,0,0)"},{"offset":0.7222,"color":"#111"},{"offset":0.7444,"color":"#111"},{"offset":0.7444,"color":"rgba(0,0,0,0)"},{"offset":0.7778,"color":"rgba(0,0,0,0)"},{"offset":0.7778,"color":"#111"},{"offset":0.8,"color":"#111"},{"offset":0.8,"color":"rgba(0,0,0,0)"},{"offset":0.8333,"color":"rgba(0,0,0,0)"},{"offset":0.8333,"color":"#111"},{"offset":0.8556,"color":"#111"},{"offset":0.8556,"color":"rgba(0,0,0,0)"},{"offset":0.8889,"color":"rgba(0,0,0,0)"},{"offset":0.8889,"color":"#111"},{"offset":0.9111,"color":"#111"},{"offset":0.9111,"color":"rgba(0,0,0,0)"},{"offset":0.9444,"color":"rgba(0,0,0,0)"},{"offset":0.9444,"color":"#111"},{"offset":0.9667,"color":"#111"},{"offset":0.9667,"color":"rgba(0,0,0,0)"},{"offset":1,"color":"rgba(0,0,0,0)"}]}},"encoding":{"x":{"field":"slot","type":"nominal"},"y":{"field":"value","type":"quantitative"}}},
{"mark":{"type":"rule","stroke":"#000","strokeWidth":1.6},"encoding":{"x":{"field":"slot","type":"nominal"},"y":{"field":"value","type":"quantitative"},"y2":{"field":"upper"}}},
{"mark":{"type":"tick","color":"#000","size":9,"thickness":1.6},"encoding":{"x":{"field":"slot","type":"nominal"},"y":{"field":"upper","type":"quantitative"}}}
]},
{"data":{"name":"sig"},"transform":[{"filter":"datum.panel==='E'"}],"layer":[
{"mark":{"type":"rule","stroke":"#000","strokeWidth":1},"encoding":{"x":{"field":"from","type":"nominal","bandPosition":0.5},"x2":{"field":"to","bandPosition":0.5},"y":{"field":"level","type":"quantitative"}}},
{"mark":{"type":"tick","orient":"vertical","color":"#000","size":5,"thickness":1},"encoding":{"x":{"field":"from","type":"nominal","bandPosition":0.5},"y":{"field":"level","type":"quantitative"}}},
{"mark":{"type":"tick","orient":"vertical","color":"#000","size":5,"thickness":1},"encoding":{"x":{"field":"to","type":"nominal","bandPosition":0.5},"y":{"field":"level","type":"quantitative"}}},
{"mark":{"type":"text","fontSize":6,"baseline":"bottom","dy":-1},"encoding":{"x":{"field":"mid","type":"nominal","bandPosition":1},"y":{"field":"level","type":"quantitative"},"text":{"field":"label"}}}
]},
{"data":{"name":"groups"},"transform":[{"filter":"datum.group==='Switched memory'"}],"layer":[
{"mark":{"type":"rule","stroke":"#000","strokeWidth":1.2},"encoding":{"x":{"datum":"SM-negU","bandPosition":-0.12},"x2":{"datum":"SM-posP","bandPosition":0.84},"y":{"datum":-8.9}}},
{"mark":{"type":"tick","orient":"vertical","color":"#000","size":7,"thickness":1.2},"encoding":{"x":{"datum":"SM-negU","bandPosition":-0.12},"y":{"datum":-8.9}}},
{"mark":{"type":"tick","orient":"vertical","color":"#000","size":7,"thickness":1.2},"encoding":{"x":{"datum":"SM-posP","bandPosition":0.84},"y":{"datum":-8.9}}},
{"mark":{"type":"text","fontSize":8.5},"encoding":{"x":{"datum":"g1","bandPosition":0.77},"y":{"datum":-22},"text":{"field":"group"}}}
]},
{"data":{"name":"groups"},"transform":[{"filter":"datum.group==='IgM memory'"}],"layer":[
{"mark":{"type":"rule","stroke":"#000","strokeWidth":1.2},"encoding":{"x":{"datum":"IgM-negU","bandPosition":0.57},"x2":{"datum":"IgM-posP","bandPosition":1.6},"y":{"datum":-8.9}}},
{"mark":{"type":"tick","orient":"vertical","color":"#000","size":7,"thickness":1.2},"encoding":{"x":{"datum":"IgM-negU","bandPosition":0.57},"y":{"datum":-8.9}}},
{"mark":{"type":"tick","orient":"vertical","color":"#000","size":7,"thickness":1.2},"encoding":{"x":{"datum":"IgM-posP","bandPosition":1.6},"y":{"datum":-8.9}}},
{"mark":{"type":"text","fontSize":8.5},"encoding":{"x":{"datum":"g3","bandPosition":0.94},"y":{"datum":-22},"text":{"field":"group"}}}
]},
{"data":{"name":"panels"},"transform":[{"filter":"datum.panel==='E'"}],"layer":[
{"mark":{"type":"text","fontSize":16.5,"align":"left","dx":-57.7},"encoding":{"x":{"datum":"SM-negU","bandPosition":0},"y":{"datum":104},"text":{"field":"letter"}}},
{"mark":{"type":"text","fontSize":12},"encoding":{"x":{"datum":"g2","bandPosition":0.19},"y":{"datum":124.4},"text":{"field":"marker"}}}
]}
]}
]}
]}
]}
]
}
